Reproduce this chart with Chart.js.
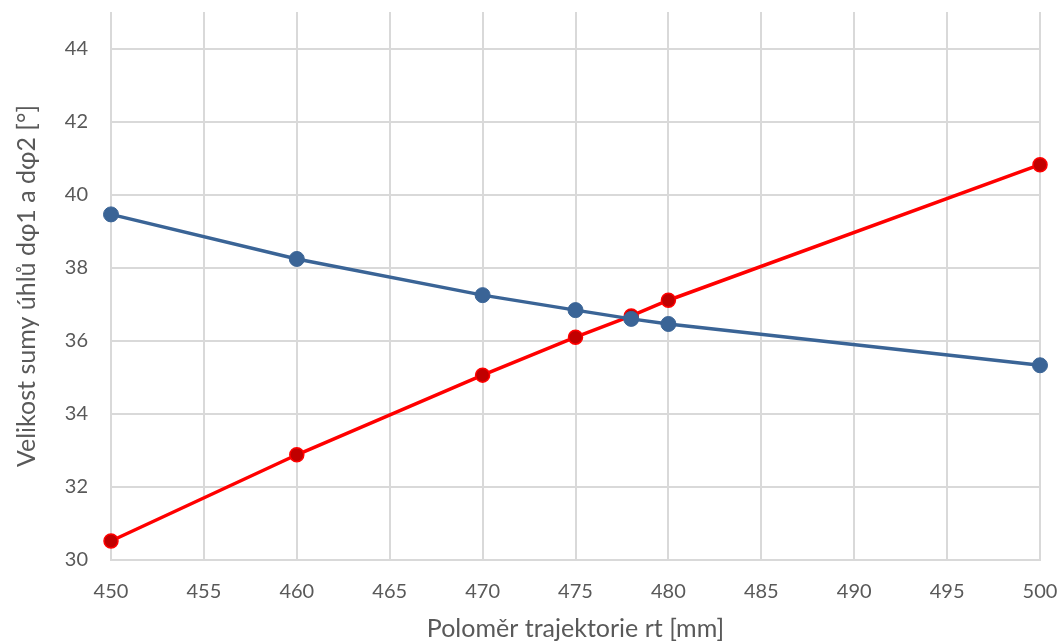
<!DOCTYPE html>
<html>
<head>
<meta charset="utf-8">
<script src="https://cdn.jsdelivr.net/npm/chart.js@4.4.1/dist/chart.umd.min.js"></script>
<style>
  html, body { margin: 0; padding: 0; background: #fff; }
  #wrap { width: 1064px; height: 644px; }
</style>
</head>
<body>
<div id="wrap"><canvas id="chart" width="1064" height="644"></canvas></div>
<script>
// Radius of the trajectory [mm]
const radiusBlue = [450, 460, 470, 475, 478, 480, 500];
const radiusRed = [450, 460, 470, 475, 478, 480, 500];
// Sum of angles dφ1 + dφ2 [°]
const angleBlue = [39.46, 38.24, 37.25, 36.84, 36.60, 36.46, 35.33];
const angleRed = [30.52, 32.88, 35.06, 36.10, 36.68, 37.11, 40.82];
const yTicks = [30, 32, 34, 36, 38, 40, 42, 44];

const toPoints = (xs, ys) => xs.map((x, i) => ({ x: x, y: ys[i] }));

const family = 'Lato, "Open Sans", sans-serif';
const tickFont = { family: family, size: 20 };
const titleFont = { family: family, size: 25 };
const textColor = '#595959';
const gridColor = '#d9d9d9';

new Chart(document.getElementById('chart').getContext('2d'), {
    type: 'line',
    data: {
        datasets: [
            {
                data: toPoints(radiusBlue, angleBlue),
                borderColor: '#3a6496',
                backgroundColor: '#3a6496',
                pointBorderColor: '#3a6496',
                borderWidth: 3.5,
                pointRadius: 7.5,
                pointHoverRadius: 7.5,
                pointBorderWidth: 1,
                tension: 0,
                clip: false
            },
            {
                data: toPoints(radiusRed, angleRed),
                borderColor: '#ff0000',
                backgroundColor: '#c00000',
                pointBorderColor: '#ff0000',
                borderWidth: 3.5,
                pointRadius: 7,
                pointHoverRadius: 7,
                pointBorderWidth: 1.5,
                tension: 0,
                clip: false
            }
        ]
    },
    options: {
        responsive: false,
        animation: false,
        layout: { padding: { top: 12, right: 24, left: 0, bottom: 0 } },
        plugins: {
            legend: { display: false },
            tooltip: { enabled: false }
        },
        scales: {
            x: {
                type: 'linear',
                min: 450,
                max: 500,
                ticks: { stepSize: 5, color: textColor, font: tickFont, padding: 20 },
                grid: { color: gridColor, lineWidth: 2, drawTicks: false },
                border: { color: gridColor, width: 2 },
                title: {
                    display: true,
                    text: 'Poloměr trajektorie rt [mm]',
                    color: textColor,
                    font: titleFont,
                    padding: { top: 4, bottom: 0 }
                },
                afterFit: function(scale) {
                    scale.height = 84;
                    scale.paddingLeft = 0;
                    scale.paddingRight = 0;
                }
            },
            y: {
                type: 'linear',
                min: 30,
                max: 45,
                afterBuildTicks: function(scale) {
                    scale.ticks = yTicks.map(v => ({ value: v }));
                },
                ticks: { color: textColor, font: tickFont, padding: 23 },
                grid: { color: gridColor, lineWidth: 2, drawTicks: false },
                border: { display: false },
                title: {
                    display: true,
                    text: 'Velikost sumy úhlů dφ1 a dφ2 [°]',
                    color: textColor,
                    font: titleFont,
                    padding: { top: 12, bottom: 0 }
                },
                afterFit: function(scale) {
                    scale.width = 111;
                    scale.paddingTop = 0;
                    scale.paddingBottom = 0;
                }
            }
        }
    }
});
</script>
</body>
</html>
